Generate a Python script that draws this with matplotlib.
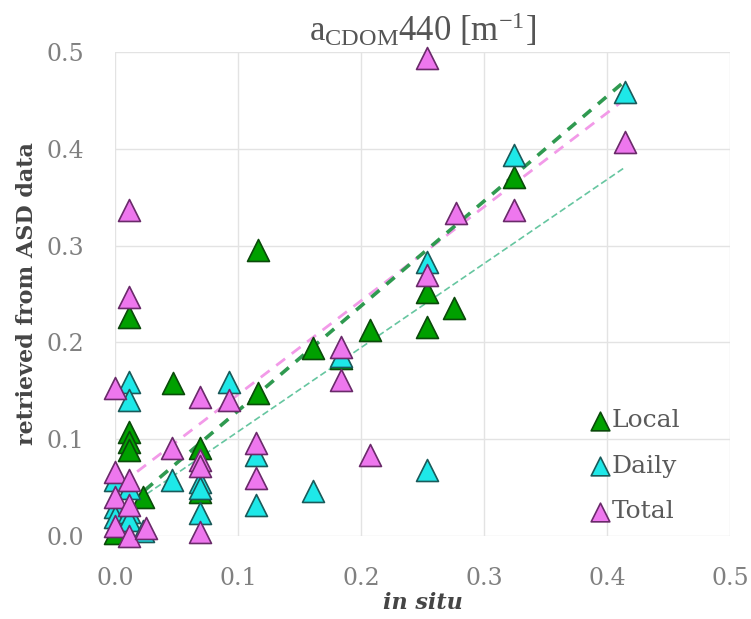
import matplotlib
matplotlib.use("Agg")
import matplotlib.pyplot as plt
import numpy as np

# ---- data ----
local_x = [0.0, 0.011, 0.011, 0.011, 0.011, 0.023, 0.047, 0.069, 0.069, 0.116, 0.116,
           0.161, 0.184, 0.207, 0.254, 0.254, 0.276, 0.324]
local_y = [0.003, 0.226, 0.107, 0.097, 0.089, 0.040, 0.158, 0.091, 0.045, 0.295, 0.148,
           0.194, 0.184, 0.213, 0.252, 0.216, 0.236, 0.371]

daily_x = [0.0, 0.0, 0.0, 0.011, 0.011, 0.011, 0.011, 0.011, 0.023, 0.046, 0.069, 0.069,
           0.069, 0.093, 0.115, 0.115, 0.161, 0.184, 0.254, 0.254, 0.324, 0.415]
daily_y = [0.058, 0.030, 0.020, 0.159, 0.140, 0.050, 0.025, 0.017, 0.005, 0.058, 0.056, 0.050,
           0.024, 0.159, 0.084, 0.032, 0.047, 0.186, 0.283, 0.068, 0.394, 0.459]

total_x = [0.0, 0.0, 0.0, 0.0, 0.011, 0.011, 0.011, 0.011, 0.011, 0.025, 0.046, 0.069,
           0.069, 0.069, 0.069, 0.093, 0.115, 0.115, 0.184, 0.184, 0.207, 0.254, 0.254,
           0.277, 0.324, 0.415]
total_y = [0.153, 0.066, 0.040, 0.010, 0.337, 0.247, 0.058, 0.032, 0.000, 0.008, 0.091, 0.144,
           0.079, 0.072, 0.004, 0.140, 0.096, 0.060, 0.195, 0.161, 0.084, 0.494, 0.270,
           0.334, 0.337, 0.407]

# trend lines: (x_start, x_end, slope, intercept)
trend_local = (0.024, 0.412, 1.083, 0.021)
trend_daily = (0.026, 0.415, 0.868, 0.021)
trend_total = (0.018, 0.412, 0.970, 0.049)

series_names = ["Local", "Daily", "Total"]
xticks = [0.0, 0.1, 0.2, 0.3, 0.4, 0.5]
yticks = [0.0, 0.1, 0.2, 0.3, 0.4, 0.5]

# ---- styling ----
plt.rcParams['mathtext.fontset'] = 'custom'
plt.rcParams['mathtext.rm'] = 'Liberation Serif'
plt.rcParams['mathtext.it'] = 'Liberation Serif:italic'

fill = {"Local": "#00a000", "Daily": "#1ee8e8", "Total": "#ee77ee"}
edge = {"Local": "#0a4a0a", "Daily": "#1a5a5a", "Total": "#6a2a6a"}

fig = plt.figure(figsize=(7.51, 6.19), dpi=100)
ax = fig.add_axes([115/751, 1-536/619, 615/751, 484/619])

ax.set_xlim(0, 0.5)
ax.set_ylim(0, 0.5)
ax.set_xticks(xticks)
ax.set_yticks(yticks)
ax.set_xticklabels([f"{v:.1f}" for v in xticks])
ax.set_yticklabels([f"{v:.1f}" for v in yticks])
ax.grid(True, color="#e3e3e3", lw=1.0)
ax.set_axisbelow(True)
for s in ax.spines.values():
    s.set_visible(False)
ax.tick_params(length=0, pad=22, labelsize=17, labelcolor="#808080")
for lab in ax.get_xticklabels() + ax.get_yticklabels():
    lab.set_family("DejaVu Serif")

# trend lines
def tline(t, **kw):
    xs = np.array([t[0], t[1]])
    ax.plot(xs, t[2]*xs + t[3], **kw)

tline(trend_daily, color="#66c6a0", lw=1.2, ls=(0, (4, 2)), zorder=2)
tline(trend_total, color="#f29ae8", lw=2.0, ls=(0, (4, 3)), zorder=2)
tline(trend_local, color="#2f9a50", lw=2.6, ls=(0, (3, 2.5)), zorder=2)

ms = 250
handles = []
for name, xs, ys in [("Local", local_x, local_y), ("Daily", daily_x, daily_y),
                     ("Total", total_x, total_y)]:
    h = ax.scatter(xs, ys, marker="^", s=ms, facecolor=fill[name],
                   edgecolor=edge[name], linewidth=1.2, clip_on=False, zorder=3,
                   label=name)
    handles.append(h)

leg = ax.legend(handles=handles, labels=series_names, loc="lower left",
                bbox_to_anchor=(0.735, -0.015), frameon=False, markerscale=0.85,
                handletextpad=0.0, labelspacing=0.9, borderpad=0.3,
                prop={"family": "DejaVu Serif", "size": 18}, handlelength=1.0)
for t in leg.get_texts():
    t.set_color("#5a5a5a")

ax.set_title(r"a$_{\mathrm{CDOM}}$440 [m$^{\mathrm{-1}}$]", family="Liberation Serif",
             fontsize=25, color="#555555", pad=8)
ax.set_ylabel("retrieved from ASD data", family="DejaVu Serif", fontweight="bold",
              fontsize=16, color="#454545", labelpad=6)
ax.set_xlabel("in situ", family="DejaVu Serif", fontweight="bold", style="italic",
              fontsize=16, color="#454545", labelpad=2)

fig.savefig("out.png", dpi=100)
